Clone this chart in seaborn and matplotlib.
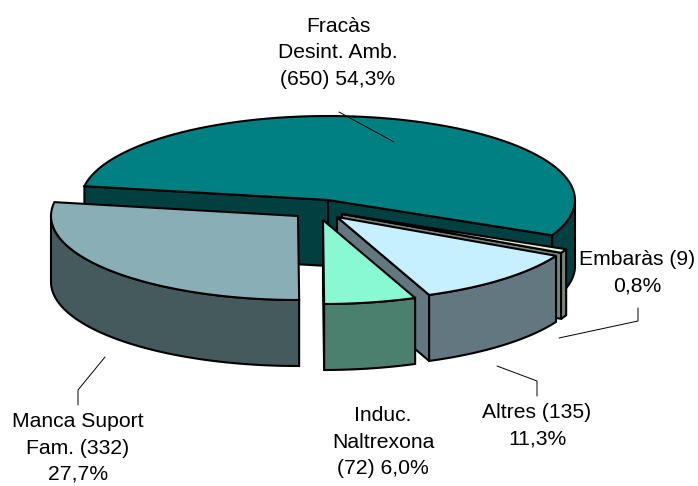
import numpy as np
import pandas as pd
import matplotlib
matplotlib.use("Agg")
import matplotlib.pyplot as plt
import seaborn as sns

# ===============================
# Data
# ===============================
slices = ["Fracas", "Embaras", "Altres", "Induc", "Manca"]
counts = [650, 9, 135, 72, 332]
top_colors = ["#008080", "#E6F5D0", "#C6EFFF", "#88F9D3", "#8AAEB5"]
side_colors = ["#004040", "#74857A", "#62777F", "#4A806D", "#455A5C"]

label_texts = [
    "Fracàs\nDesint. Amb.\n(650) 54,3%",
    "Embaràs (9)\n0,8%",
    "Altres (135)\n11,3%",
    "Induc.\nNaltrexona\n(72) 6,0%",
    "Manca Suport\nFam. (332)\n27,7%",
]

# ===============================
# Layout (pixels)
# ===============================
RX, RY, DEPTH = 247, 84, 66
START_ANGLE = 170.5
centers = [(328, 200), (342, 214), (337, 217), (323, 220), (298, 216)]
label_pos = [(338, 53), (637, 273), (537, 426), (383, 442), (78, 448)]
leaders = [
    [(339, 112), (394, 142)],
    [(638, 308), (638, 321), (559, 338)],
    [(537, 396), (537, 381), (497, 366)],
    [(105, 357), (78, 390), (78, 405)],
]

sns.set_theme(style="white")
plt.rcParams["font.family"] = ["Liberation Sans", "DejaVu Sans"]

df = pd.DataFrame({"slice": slices, "count": counts})
df["sweep"] = df["count"] / df["count"].sum() * 360
df["t0"] = START_ANGLE - df["sweep"].cumsum().shift(fill_value=0)
df["t1"] = df["t0"] - df["sweep"]


def arc(cx, cy, t0, t1, drop=0):
    t = np.radians(np.linspace(t0, t1, 80))
    return np.column_stack([cx + RX * np.cos(t), cy - RY * np.sin(t) + drop])


def face(ax, pts, color):
    ax.fill(pts[:, 0], pts[:, 1], facecolor=color, edgecolor="black",
            linewidth=1.5, joinstyle="miter")


def wall(ax, cx, cy, angle, color):
    edge = arc(cx, cy, angle, angle)[0]
    pts = np.array([(cx, cy), edge, edge + (0, DEPTH), (cx, cy + DEPTH)])
    face(ax, pts, color)


fig, ax = plt.subplots(figsize=(6.98, 4.86), dpi=100)
fig.subplots_adjust(0, 0, 1, 1)

# back to front, the order of the rows
for i, row in df.iterrows():
    cx, cy = centers[i]
    side = side_colors[i]

    # cut walls that face the viewer
    if np.sin(np.radians(row["t1"] - 90)) < 0:
        wall(ax, cx, cy, row["t1"], side)
    if np.sin(np.radians(row["t0"] + 90)) < 0:
        wall(ax, cx, cy, row["t0"], side)

    # rim, front half only
    a0, a1 = min(row["t0"], 0), max(row["t1"], -180)
    if a0 > a1:
        up = arc(cx, cy, a0, a1)
        down = arc(cx, cy, a1, a0, DEPTH)
        face(ax, np.vstack([up, down]), side)

    # top
    top = np.vstack([[(cx, cy)], arc(cx, cy, row["t0"], row["t1"])])
    face(ax, top, top_colors[i])

for pts in leaders:
    xs, ys = zip(*pts)
    ax.plot(xs, ys, color="black", linewidth=0.7)

for txt, (x, y) in zip(label_texts, label_pos):
    ax.text(x, y, txt, ha="center", va="center", fontsize=15.2,
            color="black", linespacing=1.47)

ax.set_xlim(0, 698)
ax.set_ylim(486, 0)
ax.axis("off")
fig.savefig("out.png", dpi=100, facecolor="white")
